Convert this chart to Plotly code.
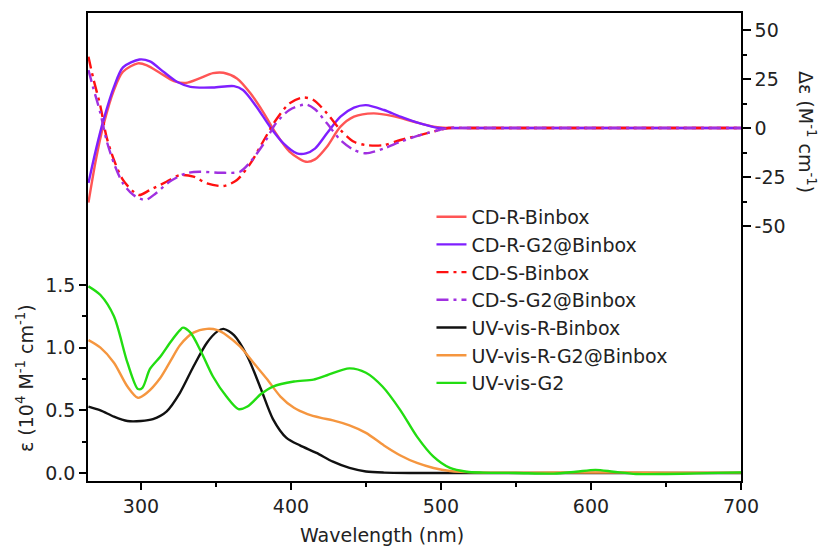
import plotly.graph_objects as go

# ---- data ----
uv_g2_nm = [265,273,282,291,298,301,306,313,320,326,328,333,340,348,357,365,371,380,388,402,415,424,439,450,461,473,484,495,506,517,528,550,575,590,603,615,630,650,670,700]
uv_g2 = [1.49,1.42,1.25,0.88,0.67,0.68,0.83,0.93,1.05,1.14,1.16,1.12,0.97,0.77,0.61,0.51,0.53,0.63,0.69,0.73,0.745,0.78,0.835,0.80,0.69,0.50,0.29,0.13,0.04,0.01,0.003,0.0,-0.005,0.01,0.025,0.01,-0.008,-0.008,-0.003,0.005]

uv_rg2_nm = [265,273,282,291,298,304,313,320,326,335,344,351,357,366,375,384,393,402,411,420,428,439,450,462,473,484,495,506,522,560,600,650,700]
uv_rg2 = [1.06,1.0,0.88,0.69,0.60,0.64,0.76,0.90,1.02,1.12,1.15,1.14,1.10,1.01,0.88,0.75,0.61,0.52,0.47,0.44,0.42,0.38,0.32,0.22,0.14,0.08,0.04,0.016,0.005,0.003,0.004,0.003,0.003]

uv_r_nm = [265,273,282,291,300,308,317,326,335,344,351,355,362,371,380,388,397,406,417,428,439,450,462,480,520,600,700]
uv_r = [0.53,0.50,0.45,0.415,0.415,0.43,0.49,0.64,0.85,1.04,1.13,1.15,1.10,0.93,0.67,0.43,0.28,0.22,0.16,0.09,0.04,0.012,0.003,0.0,0,0,0]

cd_r_nm = [265,270,275,282,288,298,304,313,322,330,339,348,355,364,373,382,390,399,410,416,424,433,442,455,468,482,495,504,520,600,700]
cd_r = [-38,-16,1.5,19.4,28.7,33,32,28,24,23,25.3,28,28.2,25.3,17.7,7.5,-2.7,-12,-17.2,-16.0,-9.5,0.7,5.8,7.5,6.1,3.2,0.7,0,0,0,0]

cd_rg2_nm = [265,270,275,282,288,299,306,315,324,333,348,362,368,377,386,395,404,410,416,424,433,442,450,462,473,486,499,505,520,600,700]
cd_rg2 = [-28,-11,4,21,31,35,34,28.7,23.6,21,20.7,21.4,19.4,10.9,0.7,-7.8,-12.9,-12.9,-10.5,-2.7,5.8,10.4,11.7,9.2,5.8,2.4,0,0,0,0,0]

cd_s_nm = [265,268,273,277,282,288,295,299,306,317,326,335,344,355,364,373,382,390,399,408,415,424,433,442,450,462,473,486,499,505,520,600,700]
cd_s = [36.4,26,11,-4.4,-16.3,-26.5,-32.5,-34.2,-31.6,-27.4,-24,-24.8,-28.2,-29.6,-26.5,-18,-6.1,4.1,12.6,15.6,14.3,7.5,-1,-7,-8.7,-8.7,-6.1,-3.6,-1,0,0,0,0]

cd_sg2_nm = [265,268,273,277,282,288,295,303,310,319,330,339,353,366,373,382,390,399,410,416,424,433,442,450,462,473,486,499,505,520,600,700]
cd_sg2 = [29.6,21,7.5,-6.1,-18,-28.2,-34.2,-36.7,-33.3,-27.4,-23.1,-22.3,-22.8,-22.3,-17.2,-7.8,2.4,9.2,12,9.6,2.4,-6.1,-11.2,-12.9,-10.4,-7,-3.6,-1,0,0,0,0]

x_ticks = [300, 400, 500, 600, 700]
x_minor = [350, 450, 550, 650]
y_ticks = [0.0, 0.5, 1.0, 1.5]
y_ticktext = ["0.0", "0.5", "1.0", "1.5"]
y_minor = [0.25, 0.75, 1.25]
y2_ticks = [-50, -25, 0, 25, 50]
y2_ticktext = ["-50", "-25", "0", "25", "50"]
y2_minor = [-37.5, -12.5, 12.5, 37.5]

FONT = "DejaVu Sans, Arial, sans-serif"
W = 2.4

fig = go.Figure()

def add(x, y, name, color, dash, axis):
    fig.add_trace(go.Scatter(
        x=x, y=y, name=name, mode="lines", yaxis=axis,
        line=dict(color=color, width=W, dash=dash, shape="spline", smoothing=0.8),
    ))

add(cd_r_nm, cd_r, "CD-R-Binbox", "#FF5555", "solid", "y2")
add(cd_rg2_nm, cd_rg2, "CD-R-G2@Binbox", "#7F1FFF", "solid", "y2")
add(cd_s_nm, cd_s, "CD-S-Binbox", "#FF1010", "12px,5px,3px,5px", "y2")
add(cd_sg2_nm, cd_sg2, "CD-S-G2@Binbox", "#A030E0", "12px,5px,3px,5px", "y2")
add(uv_r_nm, uv_r, "UV-vis-R-Binbox", "#111111", "solid", "y")
add(uv_rg2_nm, uv_rg2, "UV-vis-R-G2@Binbox", "#F5963F", "solid", "y")
add(uv_g2_nm, uv_g2, "UV-vis-G2", "#22DD11", "solid", "y")

axis_common = dict(showline=True, linecolor="black", linewidth=1.5, showgrid=False,
                   zeroline=False, ticks="outside", tickcolor="black", tickwidth=1.5,
                   tickfont=dict(family=FONT, size=19, color="#222"))

fig.update_layout(
    width=823, height=548,
    margin=dict(l=88, r=82, t=13, b=67),
    paper_bgcolor="white", plot_bgcolor="white",
    font=dict(family=FONT, color="#222"),
    xaxis=dict(range=[264.7, 700], tickmode="array", tickvals=x_ticks, ticklen=7, mirror=True,
               minor=dict(tickmode="array", tickvals=x_minor, ticklen=4, ticks="outside", tickcolor="black"),
               **axis_common),
    yaxis=dict(range=[-0.064, 3.671], tickmode="array", tickvals=y_ticks,
               ticktext=y_ticktext, ticklen=7,
               minor=dict(tickmode="array", tickvals=y_minor, ticklen=4, ticks="outside", tickcolor="black"),
               **axis_common),
    yaxis2=dict(range=[-180.1, 58.7], overlaying="y", side="right", tickmode="array",
                tickvals=y2_ticks, ticktext=y2_ticktext, ticklen=8,
                minor=dict(tickmode="array", tickvals=y2_minor, ticklen=4, ticks="outside", tickcolor="black"),
                **axis_common),
    showlegend=True,
    legend=dict(x=0.526, y=0.605, xanchor="left", yanchor="top",
                bgcolor="rgba(0,0,0,0)", borderwidth=0,
                font=dict(family=FONT, size=19, color="#222"), tracegroupgap=0),
    annotations=[
        dict(text="Wavelength (nm)", xref="paper", yref="paper", x=0.45, y=-0.115,
             xanchor="center", yanchor="middle", showarrow=False,
             font=dict(family=FONT, size=19, color="#222")),
        dict(text="ε (10<sup>4</sup> M<sup>-1</sup> cm<sup>-1</sup>)", xref="paper", yref="paper",
             x=-0.0965, y=0.22, xanchor="center", yanchor="middle", textangle=-90, showarrow=False,
             font=dict(family=FONT, size=19, color="#222")),
        dict(text="Δε (M<sup>-1</sup> cm<sup>-1</sup>)", xref="paper", yref="paper",
             x=1.1, y=0.745, xanchor="center", yanchor="middle", textangle=90, showarrow=False,
             font=dict(family=FONT, size=19, color="#222")),
    ],
)

fig.write_html("out.html")
